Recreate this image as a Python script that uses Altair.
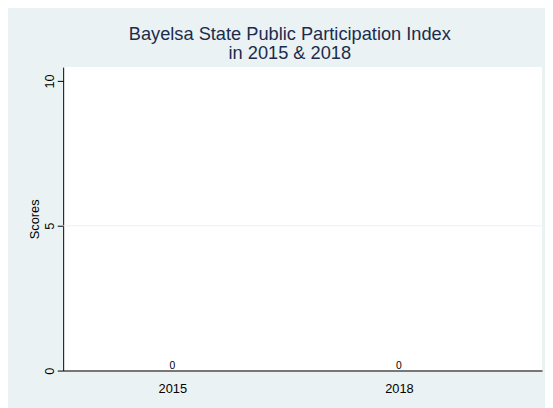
import altair as alt
import pandas as pd

years = [2015, 2018]
scores = [0, 0]
y_ticks = [0, 5, 10]
grid_values = [5]

df = pd.DataFrame({"year": years, "score": scores})
grid_df = pd.DataFrame({"g": grid_values})

FONT = "Liberation Sans"

y_scale = alt.Scale(domain=[0, 10.48], nice=False)
y_axis = alt.Axis(
    values=y_ticks, title="Scores", grid=False, tickSize=6,
    tickColor="#000000", domainColor="#000000", labelAngle=270,
    labelAlign="center", labelBaseline="alphabetic", labelPadding=4,
    labelFontSize=13, labelColor="#000000", labelFont=FONT,
    titleFont=FONT, titleFontSize=13, titleFontWeight="normal",
    titleColor="#000000", titlePadding=2,
)

x_enc = alt.X(
    "year:Q",
    scale=alt.Scale(domain=[2013.62, 2019.83], nice=False, zero=False),
    axis=alt.Axis(
        values=years, format="d", title=None, ticks=False, grid=False,
        domainColor="#777777", domainWidth=2, labelFontSize=13,
        labelPadding=12, labelColor="#000000", labelFont=FONT,
    ),
)

grid = alt.Chart(grid_df).mark_rule(color="#eaf2f3", strokeWidth=1).encode(
    y=alt.Y("g:Q", scale=y_scale, axis=y_axis)
)
bars = alt.Chart(df).mark_bar(color="#1a476f", size=100).encode(
    x=x_enc, y=alt.Y("score:Q", scale=y_scale, axis=y_axis)
)
labels = alt.Chart(df).mark_text(
    dy=-1.5, fontSize=10.5, font=FONT, color="#000000", baseline="alphabetic"
).encode(x="year:Q", y="score:Q", text=alt.Text("score:Q", format="d"))

chart = alt.layer(grid, bars, labels).properties(
    width=486,
    height=308,
    title=alt.Title(
        ["Bayelsa State Public Participation Index", "in 2015 & 2018"],
        fontSize=18.5, font=FONT, fontWeight="normal", color="#1c2b4d",
        anchor="middle", dx=-13, offset=5, lineHeight=19.5,
    ),
    background="#eaf2f3",
    padding={"left": 56, "top": 57, "right": 3, "bottom": 35},
    autosize=alt.AutoSizeParams(type="none"),
).configure_view(stroke=None, fill="white")

chart.save("out.html", embed_options={"renderer": "svg", "actions": False})
